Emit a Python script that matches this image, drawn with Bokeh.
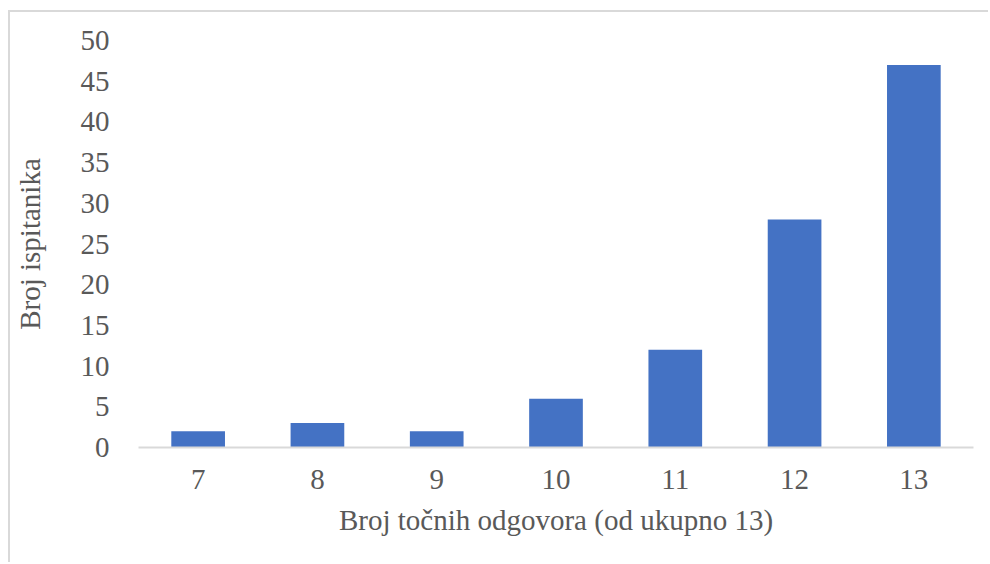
from bokeh.plotting import figure
from bokeh.models import FactorRange, Range1d, FixedTicker
from bokeh.embed import file_html
from bokeh.resources import INLINE

categories = ["7", "8", "9", "10", "11", "12", "13"]
counts = [2, 3, 2, 6, 12, 28, 47]
y_ticks = [0, 5, 10, 15, 20, 25, 30, 35, 40, 45, 50]

FONT = "'Liberation Serif', 'Times New Roman', serif"
TXT = "#595959"

p = figure(width=980, height=552, x_range=FactorRange(factors=categories, range_padding=0),
           y_range=Range1d(0, 50), output_backend="svg", toolbar_location=None,
           min_border_left=127, min_border_right=17, min_border_top=28, min_border_bottom=117)
p.styles = {"margin-left": "8px", "margin-top": "10px",
            "border-left": "2px solid #d9d9d9", "border-top": "2px solid #d9d9d9"}
p.outline_line_color = None
p.xgrid.grid_line_color = None
p.ygrid.grid_line_color = None

p.vbar(x=categories, top=counts, width=0.45, fill_color="#4472C4", line_color=None)

p.yaxis.ticker = FixedTicker(ticks=y_ticks)
p.yaxis.axis_line_color = None
p.yaxis.major_tick_line_color = None
p.yaxis.minor_tick_line_color = None
p.yaxis.major_label_text_font = FONT
p.yaxis.major_label_text_font_size = "29px"
p.yaxis.major_label_text_color = TXT
p.yaxis.major_label_standoff = 23
p.yaxis.axis_label = "Broj ispitanika"
p.yaxis.axis_label_text_font = FONT
p.yaxis.axis_label_text_font_size = "29px"
p.yaxis.axis_label_text_font_style = "normal"
p.yaxis.axis_label_text_color = TXT
p.yaxis.axis_label_standoff = 32

p.xaxis.axis_line_color = "#d9d9d9"
p.xaxis.axis_line_width = 2
p.xaxis.major_tick_line_color = None
p.xaxis.minor_tick_line_color = None
p.xaxis.major_label_text_font = FONT
p.xaxis.major_label_text_font_size = "29px"
p.xaxis.major_label_text_color = TXT
p.xaxis.major_label_standoff = 16
p.xaxis.axis_label = "Broj točnih odgovora (od ukupno 13)"
p.xaxis.axis_label_text_font = FONT
p.xaxis.axis_label_text_font_size = "29px"
p.xaxis.axis_label_text_font_style = "normal"
p.xaxis.axis_label_text_color = TXT
p.xaxis.axis_label_standoff = 12

open("out.html", "w").write(file_html(p, INLINE))
